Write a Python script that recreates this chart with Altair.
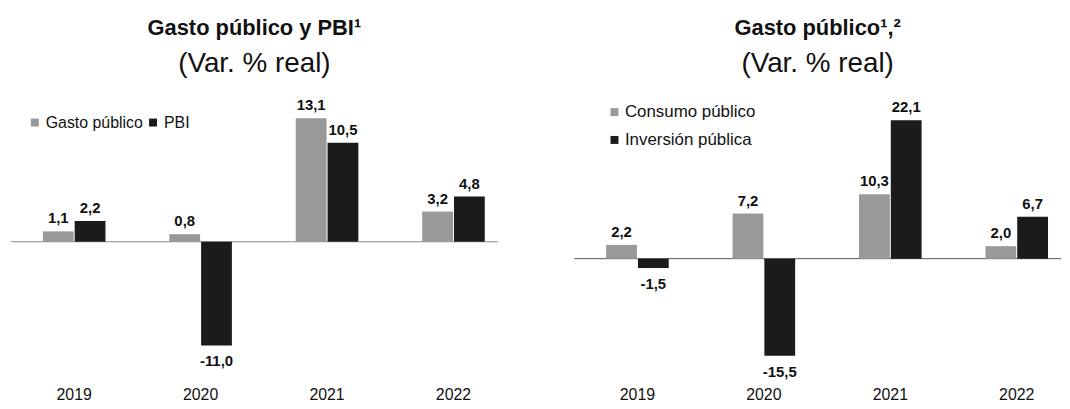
import altair as alt
import pandas as pd

years = ["2019", "2020", "2021", "2022"]
gasto = [1.1, 0.8, 13.1, 3.2]
pbi = [2.2, -11.0, 10.5, 4.8]
consumo = [2.2, 7.2, 10.3, 2.0]
inversion = [-1.5, -15.5, 22.1, 6.7]

left_names = ["Gasto público", "PBI"]
right_names = ["Consumo público", "Inversión pública"]

FONT = "Liberation Sans"
GREY = "#999999"
BLACK = "#1b1b1b"
TXT = "#111111"
BAR_W = 31
SHIFT = 16


def make_df(names, a_vals, b_vals):
    rows = []
    for y, a, b in zip(years, a_vals, b_vals):
        rows.append({"year": y, "serie": names[0], "valor": a})
        rows.append({"year": y, "serie": names[1], "valor": b})
    df = pd.DataFrame(rows)
    df["label"] = df["valor"].map(lambda v: f"{v:.1f}".replace(".", ","))
    return df


def panel(df, names, domain, title, sub, legend, rule_color, width):
    x = alt.X("year:N", sort=years,
              scale=alt.Scale(paddingInner=0.49, paddingOuter=0.17, align=0.72),
              axis=alt.Axis(title=None, domain=False, ticks=False, labelAngle=0,
                            labelFont=FONT, labelFontSize=16, labelColor=TXT,
                            labelPadding=6))
    y = alt.Y("valor:Q", scale=alt.Scale(domain=domain, nice=False, zero=False), axis=None)
    color = alt.Color("serie:N", sort=names,
                      scale=alt.Scale(domain=names, range=[GREY, BLACK]),
                      legend=legend)
    layers = []
    rule = alt.Chart(df).transform_aggregate(n="count()").transform_calculate(
        valor="0").mark_rule(color=rule_color, strokeWidth=1).encode(
        y=alt.Y("valor:Q", axis=None))
    layers.append(rule)
    for name, off in zip(names, [-SHIFT, SHIFT]):
        sub_base = alt.Chart(df).transform_filter(
            alt.datum.serie == name).encode(x=x, y=y)
        layers.append(sub_base.mark_bar(width=BAR_W, xOffset=off).encode(color=color))
        layers.append(sub_base.transform_filter("datum.valor >= 0").mark_text(
            baseline="bottom", dy=-5, dx=off, font=FONT, fontSize=15,
            fontWeight="bold", color=TXT).encode(text="label:N"))
        layers.append(sub_base.transform_filter("datum.valor < 0").mark_text(
            baseline="top", dy=9, dx=off, font=FONT, fontSize=15,
            fontWeight="bold", color=TXT).encode(text="label:N"))
    return alt.layer(*layers).properties(
        width=width, height=290,
        title=alt.TitleParams(text=title, subtitle=sub, anchor="middle",
                              font=FONT, fontSize=22, fontWeight="bold", color=TXT,
                              subtitleFont=FONT, subtitleFontSize=28,
                              subtitleColor=TXT, subtitlePadding=10, offset=14))


left_df = make_df(left_names, gasto, pbi)
right_df = make_df(right_names, consumo, inversion)

left_legend = alt.Legend(orient="none", legendX=16, legendY=22, direction="horizontal",
                         title=None, symbolType="square", symbolSize=64,
                         labelFont=FONT, labelFontSize=16, labelColor=TXT,
                         columnPadding=2, labelOffset=3)
right_legend = alt.Legend(orient="none", legendX=32, legendY=11, direction="vertical",
                          title=None, symbolType="square", symbolSize=64,
                          labelFont=FONT, labelFontSize=17, labelColor=TXT,
                          rowPadding=10, labelOffset=2)

left = panel(left_df, left_names, [-14.74, 15.79],
             "Gasto público y PBI¹", "(Var. % real)", left_legend, "#8a8a8a", 490)
right = panel(right_df, right_names, [-19.52, 26.51],
              "Gasto público¹,²", "(Var. % real)", right_legend, "#555555", 490)

chart = alt.hconcat(left, right, spacing=75).resolve_scale(
    color="independent", x="independent", y="independent"
).properties(
    padding={"left": 2, "top": 8, "right": 0, "bottom": 0}
).configure_view(stroke=None)

chart.save("out.html", embed_options={"renderer": "svg", "actions": False})
